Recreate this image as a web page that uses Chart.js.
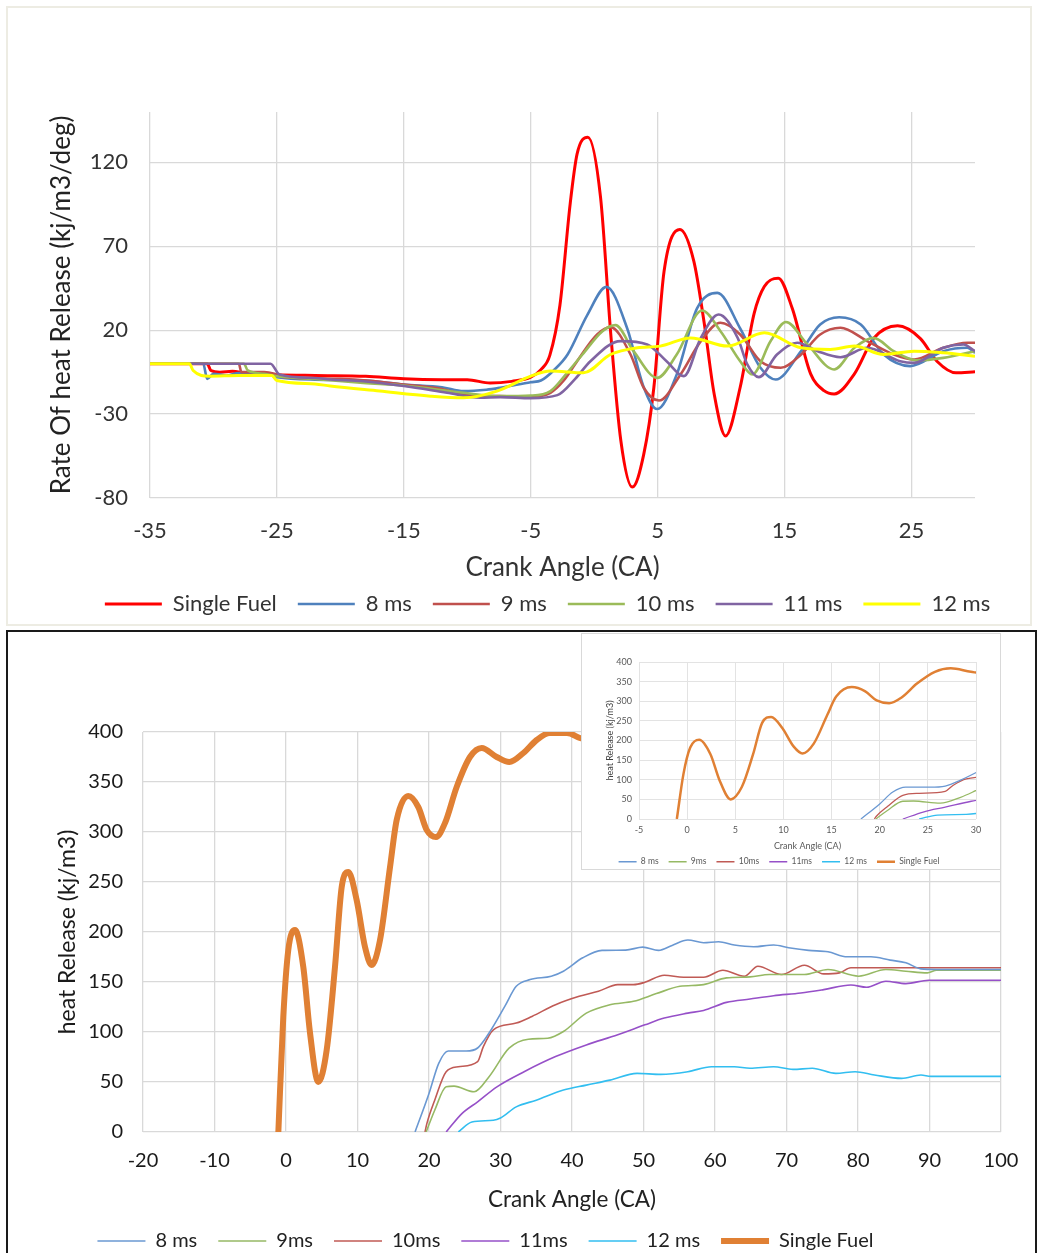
<!DOCTYPE html>
<html>
<head>
<meta charset="utf-8">
<title>Heat release vs crank angle</title>
<script src="https://cdn.jsdelivr.net/npm/chart.js@4.4.0/dist/chart.umd.min.js"></script>
<style>
  body { margin: 0; background: #fff; width: 1039px; height: 1253px; position: relative; overflow: hidden; }
  #rateFrame { position: absolute; left: 6px; top: 6px; width: 1026px; height: 620px; box-sizing: border-box; border: 2px solid #EDECE3; }
  #rateChart { position: absolute; left: 0; top: 0; }
  #heatFrame { position: absolute; left: 6px; top: 630px; width: 1031px; height: 640px; box-sizing: border-box; border: 2px solid #1a1a1a; }
  #heatChart { position: absolute; left: -30px; top: 632px; }
  #insetBox { position: absolute; left: 581px; top: 633px; width: 420px; height: 237px; box-sizing: border-box; border: 1px solid #D9D9D9; background: #fff; overflow: hidden; }
  #insetChart { position: absolute; left: 0; top: 0; }
</style>
</head>
<body>
<div id="rateFrame"></div>
<canvas id="rateChart" width="1100" height="628"></canvas>
<div id="heatFrame"></div>
<canvas id="heatChart" width="1069" height="630"></canvas>
<div id="insetBox"><canvas id="insetChart" width="418" height="245"></canvas></div>

<script>
// --- Rate of heat release, points are [crank angle, kJ/m3/deg] ---
const rateSingleFuel = [[-35,0],[-30.5,0],[-30.2,-4],[-29.5,-5],[-28.5,-4.5],[-27.5,-5.5],[-25,-6.5],[-22,-7],[-18,-7.5],[-15,-9],[-12,-9.5],[-10,-9.5],[-8.2,-11.5],[-6.5,-10.5],[-5,-8],[-4.2,-3.5],[-3.5,5],[-2.7,35],[-1.9,95],[-1.35,125],[-0.5,135],[0.5,99],[1.3,18],[2.1,-46],[3.0,-73.5],[3.9,-54],[4.7,-14],[5.5,55],[6.75,80],[7.85,61],[8.65,25],[9.45,-18],[10.35,-43],[11.5,-14],[12.6,30],[13.4,46],[14.5,51],[15.6,33],[17.05,-6],[18.1,-16],[18.9,-18],[20.5,-6],[22,15],[23.9,22.6],[25.7,15],[27,1.5],[28.5,-5.4],[30,-4.8]];
const rate8ms = [[-35,0],[-30.8,0],[-30.5,-9],[-30,-6],[-29,-7],[-28,-5.5],[-26,-6],[-25,-8],[-22,-9.5],[-18,-10],[-15,-12.4],[-12,-14],[-10.3,-16.3],[-8.5,-15.5],[-7.4,-14.3],[-5,-11],[-4.2,-10],[-3.2,-4],[-2.1,5.5],[-0.55,29],[0.96,45.8],[2.6,21],[3.9,-14],[4.96,-27],[6.5,-6.4],[8.1,33],[9.7,42.2],[11.5,21],[13.1,-2.4],[14.3,-9.4],[16.3,7.5],[17.8,23.4],[19.3,27.7],[21,23.4],[22.8,5.5],[24.9,-1.4],[27.5,7.5],[29.4,9.5],[30,6.5]];
const rate9ms = [[-35,0],[-28,0],[-27.8,-5],[-26,-5],[-25.2,-6],[-24.5,-8],[-20,-9],[-15,-12.4],[-12,-15],[-10.3,-18.3],[-7.4,-19.3],[-5,-19.5],[-3.45,-17.3],[-2.4,-10],[-1.35,1.5],[0.23,17.4],[1.28,21.8],[2.86,5.5],[3.9,-14.3],[5.1,-21.9],[6.8,-6.4],[8.4,13.5],[9.95,24.4],[11.5,17.4],[13.1,1.5],[14.7,-2.4],[16.3,5.5],[17.8,17.4],[19.4,21.4],[21.5,13.5],[23.6,5.5],[25.2,2.5],[27.5,9.5],[29.4,12.5],[30,12.5]];
const rate10ms = [[-35,0],[-27.6,0],[-27.3,-4],[-26,-6],[-25,-7.5],[-22,-9],[-18.2,-11.4],[-15,-13],[-10.3,-17.3],[-7.4,-19.3],[-5,-19],[-3.45,-16.3],[-2.2,-6],[-0.93,5.5],[0.65,19.4],[1.67,23],[3.1,7.5],[4.96,-8.4],[6.5,5.5],[8.5,31.7],[9.95,19.4],[11.5,1.5],[12.45,-6.4],[13.9,13.5],[15.1,24.9],[16.8,11.5],[18.9,-3.4],[20.5,9.5],[22,15.4],[23.6,7.5],[25.4,2],[27.5,3.5],[30,7.5]];
const rate11ms = [[-35,0],[-25.5,0],[-24.8,-6.4],[-22,-8.5],[-20.8,-9.4],[-18.2,-10.4],[-15,-13.3],[-11.6,-17.3],[-9,-20.3],[-7.4,-19.9],[-5,-20.5],[-2.9,-18.7],[-1.5,-9],[-0.3,1.5],[2.07,13.5],[4.17,11.5],[5.7,1.5],[7.06,-7.4],[8.4,15.4],[9.8,29.3],[11.3,15.4],[12.06,-0.4],[12.97,-8],[14.4,5.5],[16,12.5],[17.6,7.5],[19.4,3.9],[21.5,9.5],[24.1,1.5],[25.2,0.5],[27.5,9.5],[29.1,11.5],[30,7.5]];
const rate12ms = [[-35,0],[-31.9,0],[-31.6,-4],[-30.3,-7.4],[-28,-7],[-25.4,-7],[-25,-10],[-22,-12],[-20.8,-13.3],[-16.9,-16.3],[-12.9,-19.3],[-10.3,-20.3],[-7.66,-16.3],[-5,-7.4],[-3.45,-4.4],[-0.85,-5.4],[1.28,5.5],[3.4,9.5],[5.2,10.5],[7.6,15.4],[10.5,10.5],[13.4,18.4],[16.3,9.5],[18.6,8.5],[20.5,10.5],[22.8,5.5],[25.2,7.5],[27.5,6.5],[30,4.5]];
const rateTicksX = [-35, -25, -15, -5, 5, 15, 25];
const rateTicksY = [-80, -30, 20, 70, 120];

// --- Cumulative heat release, points are [crank angle, kJ/m3] ---
const heat8ms = [[18.05,0],[20,38.5],[21.36,68.7],[22.7,81],[25.2,81],[26.8,84],[28.4,99],[30.6,125.6],[32.2,145.7],[34.15,152.4],[37.1,155.8],[38.8,160.8],[41.5,174.2],[44.2,181.6],[47.5,181.9],[49.9,184.9],[52.1,181.6],[54,186.6],[56.2,192],[58.4,189.3],[60.5,190.3],[62.7,187],[65.4,185.3],[68.2,187],[70.3,184.3],[73.1,181.6],[75.8,180.2],[78.5,175.2],[81.8,175.2],[84.5,171.9],[86.7,169.2],[88.8,163.1],[91,162.5],[100,162.5]];
const heat9ms = [[19.6,0],[20.8,21.8],[22.4,45.2],[23.5,45.9],[26.3,40.2],[28.4,55.3],[31.2,83.8],[33.9,92.8],[36.6,93.8],[38.8,100.5],[42,118.9],[45.3,127.3],[48.6,130.7],[51.8,138.4],[55.1,145.7],[58.4,147.4],[61.6,154.1],[64.9,155.1],[67.6,157.5],[72.5,157.5],[75.8,162.5],[80.1,155.8],[83.9,162.5],[86.7,160.8],[89.7,159.1],[91,161.8],[100,161.8]];
const heat10ms = [[19.44,0],[19.7,8.4],[20.8,31.8],[22.4,60.3],[24.1,65.3],[26.8,70.4],[27.6,85.4],[29,102.2],[32.2,108.9],[34.4,115.6],[37.7,127.3],[41,135.7],[43.7,140.7],[46.4,147.4],[48.6,147.4],[50.2,149.7],[52.9,156.8],[55.6,154.8],[58.4,154.8],[61.1,161.8],[64.1,155.8],[66,165.8],[69.3,157.5],[72.5,166.8],[75.2,158.1],[77.4,159.1],[79,164.2],[100,164.2]];
const heat11ms = [[22.4,0],[24.6,18.4],[26.8,30.2],[29.5,45.2],[33.3,60.3],[37.7,75.4],[42,87.1],[46.4,97.2],[50.2,107.2],[52.9,113.9],[56.2,118.9],[58.4,121.6],[61.6,129.6],[64.9,133],[68.2,136.3],[72,139],[75.2,142.4],[79,147],[81.2,144.7],[83.9,150.8],[86.7,148.4],[89.9,151.8],[100,151.8]];
const heat12ms = [[24.1,0],[26,10],[29,11.7],[30,14],[32.2,25.1],[35,31.8],[38.8,41.9],[42,46.9],[45.3,51.9],[49.1,58.6],[52.4,57.6],[56.2,60.3],[59.5,65.3],[62.7,65.3],[64.9,63.7],[68.2,65.3],[70.9,62.6],[73.6,63.7],[76.9,58.6],[79.6,60.3],[82.3,57],[86.1,53.6],[88.8,57],[90.2,55.6],[100,55.6]];
const heatSingleFuel = [[-1.07,0],[-0.38,115],[0.32,182],[1.26,202],[2.42,165],[3.36,99],[4.52,50],[5.69,82],[6.85,165],[7.79,245],[8.72,260],[9.88,232],[11.05,185],[11.98,167],[13.15,192],[14.55,265],[15.48,312],[17.1,336],[18.5,325],[19.68,302],[20.98,295],[22.24,309],[23.87,345],[25.73,375],[27.37,384],[29.47,375],[31.24,370],[33.2,379],[35.06,392],[36.9,399],[39.3,399],[41.1,394],[42,392]];

const FONT = 'Lato';

function series(label, data, color, width, order) {
    return {
        label: label,
        data: data,
        order: order,
        borderColor: color,
        backgroundColor: color,
        borderWidth: width,
        pointRadius: 0,
        pointHoverRadius: 0,
        pointBorderColor: color,
        pointBorderWidth: width,
        cubicInterpolationMode: 'monotone'
    };
}

function legendOpts(size, lineLen, gap, color) {
    return {
        position: 'bottom',
        labels: {
            usePointStyle: true,
            pointStyle: 'line',
            pointStyleWidth: lineLen,
            padding: gap,
            color: color,
            font: { family: FONT, size: size },
            sort: (a, b) => a.datasetIndex - b.datasetIndex
        }
    };
}

// --- Top chart: rate of heat release ---
// the canvas runs past the page edge; an empty right axis keeps the plot inside
// while the legend centres over the wider area
new Chart(document.getElementById('rateChart'), {
    type: 'line',
    data: {
        datasets: [
            series('Single Fuel', rateSingleFuel, '#FF0000', 3, 6),
            series('8 ms', rate8ms, '#4F81BD', 2.6, 5),
            series('9 ms', rate9ms, '#C0504D', 2.6, 4),
            series('10 ms', rate10ms, '#9BBB59', 2.6, 3),
            series('11 ms', rate11ms, '#8064A2', 2.6, 2),
            series('12 ms', rate12ms, '#FFFF00', 3, 1)
        ]
    },
    options: {
        responsive: false,
        animation: false,
        layout: { padding: { top: 112, right: 5, bottom: 3, left: 0 } },
        plugins: {
            tooltip: { enabled: false },
            legend: legendOpts(22, 57, 21, '#333')
        },
        scales: {
            x: {
                type: 'linear', min: -35, max: 30,
                afterBuildTicks: s => { s.ticks = rateTicksX.map(v => ({ value: v })); },
                afterFit: s => { s.height = 74; },
                grid: { color: '#D9D9D9', lineWidth: 1.3, drawTicks: false },
                border: { display: false },
                ticks: { padding: 20, color: '#333', font: { family: FONT, size: 22 } },
                title: { display: true, text: 'Crank Angle (CA)', color: '#333', font: { family: FONT, size: 26 }, padding: { top: 0, bottom: -11.6 } }
            },
            y: {
                min: -80, max: 150,
                afterBuildTicks: s => { s.ticks = rateTicksY.map(v => ({ value: v })); },
                afterFit: s => { s.width = 150; },
                grid: { color: '#D9D9D9', lineWidth: 1.3, drawTicks: false },
                border: { display: false },
                ticks: { padding: 22, color: '#333', font: { family: FONT, size: 22 } },
                title: { display: true, text: 'Rate Of heat Release (kj/m3/deg)', color: '#222', font: { family: FONT, size: 26 }, padding: { top: 46.4, bottom: 0 } }
            },
            spacer: {
                position: 'right',
                grid: { display: false },
                border: { display: false },
                ticks: { display: false },
                afterFit: s => { s.width = 120; }
            }
        }
    }
});

// --- Bottom chart: cumulative heat release ---
const heatColors = {
    '8 ms': '#6A98D2', '9ms': '#96B964', '10ms': '#C05A55',
    '11ms': '#9650C8', '12 ms': '#32BEF0', 'Single Fuel': '#E08034'
};

function heatDatasets(thin, thick) {
    return [
        series('8 ms', heat8ms, heatColors['8 ms'], thin),
        series('9ms', heat9ms, heatColors['9ms'], thin),
        series('10ms', heat10ms, heatColors['10ms'], thin),
        series('11ms', heat11ms, heatColors['11ms'], thin),
        series('12 ms', heat12ms, heatColors['12 ms'], thin),
        series('Single Fuel', heatSingleFuel, heatColors['Single Fuel'], thick)
    ];
}

// canvas starts 30px left of the page so the legend sits a little left of centre
new Chart(document.getElementById('heatChart'), {
    type: 'line',
    data: { datasets: heatDatasets(1.6, 6) },
    options: {
        responsive: false,
        animation: false,
        layout: { padding: { top: 100, right: 38, bottom: 1, left: 0 } },
        plugins: {
            tooltip: { enabled: false },
            legend: legendOpts(20, 48, 21, '#222')
        },
        scales: {
            x: {
                type: 'linear', min: -20, max: 100,
                ticks: { stepSize: 10, padding: 17, color: '#1a1a1a', font: { family: FONT, size: 20 } },
                afterFit: s => { s.height = 78; },
                grid: { color: '#D9D9D9', lineWidth: 1.3, drawTicks: false },
                border: { display: false },
                title: { display: true, text: 'Crank Angle (CA)', color: '#222', font: { family: FONT, size: 22.5 }, padding: { top: 0, bottom: -3.5 } }
            },
            y: {
                min: 0, max: 400,
                ticks: { stepSize: 50, padding: 20, color: '#1a1a1a', font: { family: FONT, size: 20 } },
                afterFit: s => { s.width = 173; },
                grid: { color: '#D9D9D9', lineWidth: 1.3, drawTicks: false },
                border: { display: false },
                title: { display: true, text: 'heat Release (kj/m3)', color: '#1a1a1a', font: { family: FONT, size: 23 }, padding: { top: 84.2, bottom: 0 } }
            }
        }
    }
});

// --- Inset: close-up of the early combustion phase ---
new Chart(document.getElementById('insetChart'), {
    type: 'line',
    data: { datasets: heatDatasets(1.3, 2.5) },
    options: {
        responsive: false,
        animation: false,
        layout: { padding: { top: 28, right: 24, bottom: 3, left: 0 } },
        plugins: {
            tooltip: { enabled: false },
            legend: legendOpts(8.5, 18, 10, '#595959')
        },
        scales: {
            x: {
                type: 'linear', min: -5, max: 30,
                ticks: { stepSize: 5, padding: 5.6, color: '#595959', font: { family: FONT, size: 9 } },
                afterFit: s => { s.height = 28.5; },
                grid: { color: '#E3E3E3', lineWidth: 1, drawTicks: false },
                border: { display: false },
                title: { display: true, text: 'Crank Angle (CA)', color: '#595959', font: { family: FONT, size: 9 }, padding: { top: 0, bottom: -3.6 } }
            },
            y: {
                min: 0, max: 400,
                ticks: { stepSize: 50, padding: 7, color: '#595959', font: { family: FONT, size: 9 } },
                afterFit: s => { s.width = 57; },
                grid: { color: '#E3E3E3', lineWidth: 1, drawTicks: false },
                border: { display: false },
                title: { display: true, text: 'heat Release (kj/m3)', color: '#404040', font: { family: FONT, size: 9 }, padding: { top: 22.6, bottom: 0 } }
            }
        }
    }
});
</script>
</body>
</html>
